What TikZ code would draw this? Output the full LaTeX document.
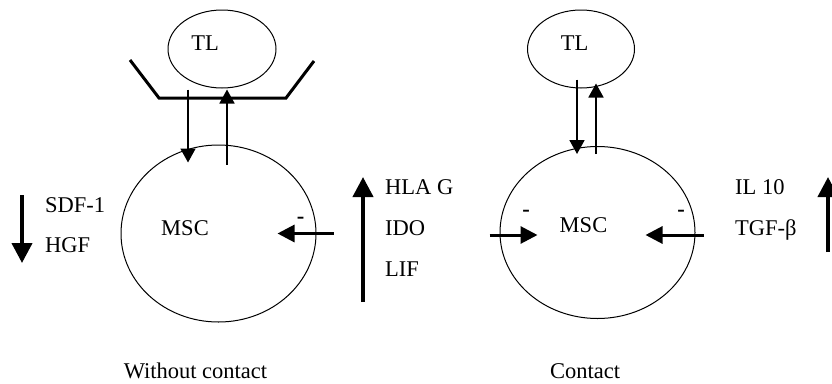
\documentclass[tikz,border=0pt]{standalone}
\usepackage{fontspec}
\setmainfont{Liberation Serif}
\usetikzlibrary{arrows.meta,shapes.geometric}
\begin{document}
\begin{tikzpicture}[x=1pt,y=-1pt,
  txt/.style={font=\fontsize{22.5}{26}\selectfont, inner sep=0pt},
  minus/.style={font=\fontsize{22.5}{26}\selectfont\bfseries, inner sep=0pt, anchor=base},
  cell/.style={draw, ellipse, line width=1pt, inner sep=0pt},
  thinarr/.style={line width=1.8pt, -{Triangle[width=15pt,length=14pt]}},
  medarr/.style={line width=3pt, -{Triangle[width=17pt,length=17pt]}},
  bigarr/.style={line width=4pt, -{Triangle[width=20pt,length=20pt]}},
  cup/.style={line width=3pt, line join=miter}
]
\useasboundingbox (0,0) rectangle (832,383);

% ---- left: without contact ----
\node[cell, minimum width=108pt, minimum height=78pt] (tl1) at (222,49) {};
\node[txt, anchor=base] (tl1t) at (205,50.5) {TL};
\coordinate (c1a) at (130,60);
\coordinate (c1b) at (159,98);
\coordinate (c1c) at (286,98);
\coordinate (c1d) at (314,61);
\draw[cup] (c1a) -- (c1b) -- (c1c) -- (c1d);

\node[cell, minimum width=195pt, minimum height=177pt] (msc1) at (218.5,233.5) {};
\node[txt, anchor=base] (msc1t) at (185,235.5) {MSC};

\draw[thinarr] ([xshift=-34pt,yshift=-1pt]tl1.south) -- ([xshift=-30.5pt,yshift=-18pt]msc1.north);
\draw[thinarr] ([xshift=8.5pt,yshift=-20pt]msc1.north) -- ([xshift=5pt,yshift=-1pt]tl1.south);

\draw[medarr] ([xshift=17pt]msc1.east) -- ([xshift=-39pt]msc1.east);
\node[minus] (m1) at (300.5,223) {-};

\coordinate (d1a) at (22,195);
\coordinate (d1b) at (22,263);
\draw[bigarr] (d1a) -- (d1b);
\node[txt, anchor=base west] (sdf) at (45,212.5) {SDF-1};
\node[txt, anchor=base west] (hgf) at (45,252.5) {HGF};

\coordinate (u1a) at (363,302);
\coordinate (u1b) at (363,177);
\draw[bigarr] (u1a) -- (u1b);
\node[txt, anchor=base west] (hla) at (385,194.5) {HLA G};
\node[txt, anchor=base west] (ido) at (385,235.5) {IDO};
\node[txt, anchor=base west] (lif) at (385,276.5) {LIF};

\node[txt, anchor=base] (cap1) at (195.5,378) {Without contact};

% ---- right: contact ----
\node[cell, minimum width=107pt, minimum height=78pt] (tl2) at (581,49) {};
\node[txt, anchor=base] (tl2t) at (574.5,50.5) {TL};

\node[cell, minimum width=195pt, minimum height=172pt] (msc2) at (597.5,232.5) {};
\node[txt, anchor=base] (msc2t) at (583.5,232.5) {MSC};

\draw[thinarr] ([xshift=-4pt,yshift=9pt]tl2.south) -- ([xshift=-20.5pt,yshift=-8pt]msc2.north);
\draw[thinarr] ([xshift=-1.5pt,yshift=-8pt]msc2.north) -- ([xshift=15pt,yshift=5pt]tl2.south);

\draw[medarr] ([xshift=-10pt,yshift=-2.5pt]msc2.west) -- ([xshift=38pt,yshift=-2.5pt]msc2.west);
\draw[medarr] ([xshift=8pt,yshift=-2.5pt]msc2.east) -- ([xshift=-50pt,yshift=-2.5pt]msc2.east);
\node[minus] (m2) at (526,216) {-};
\node[minus] (m3) at (681,216) {-};

\node[txt, anchor=base west] (il10) at (735,194.5) {IL 10};
\node[txt, anchor=base west] (tgf) at (735,235.5) {TGF-β};
\coordinate (u2a) at (828,252);
\coordinate (u2b) at (828,177);
\draw[bigarr] (u2a) -- (u2b);

\node[txt, anchor=base] (cap2) at (585,378) {Contact};
\end{tikzpicture}
\end{document}
